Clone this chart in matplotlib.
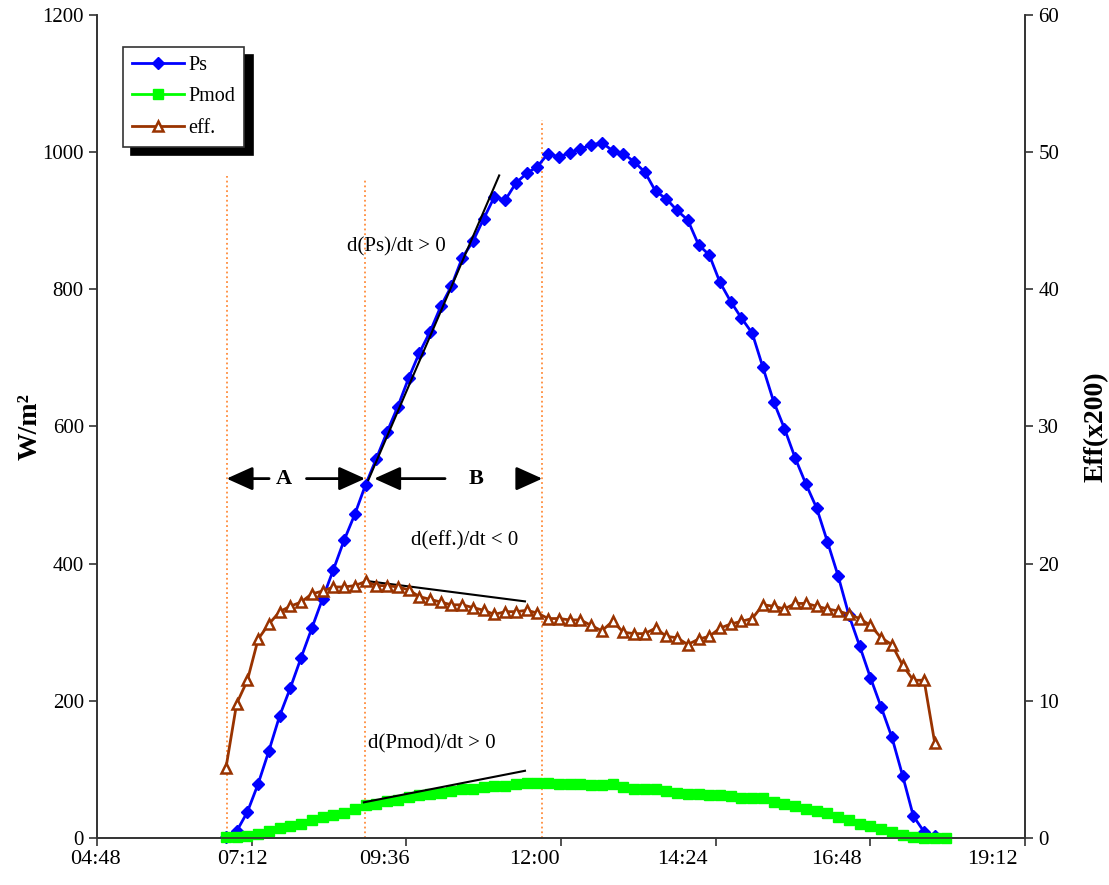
import matplotlib
matplotlib.use("Agg")
from matplotlib import pyplot as plt
from matplotlib.ticker import FixedLocator

plt.rcParams['font.family'] = ['Liberation Serif', 'DejaVu Serif']

# time of day of each sample
times = ["06:48", "06:58", "07:08", "07:18", "07:28", "07:38", "07:48", "07:58",
         "08:08", "08:18", "08:28", "08:38", "08:48", "08:58", "09:08", "09:18",
         "09:28", "09:38", "09:48", "09:58", "10:08", "10:18", "10:28", "10:38",
         "10:48", "10:58", "11:08", "11:18", "11:28", "11:38", "11:48", "11:58",
         "12:08", "12:18", "12:28", "12:38", "12:48", "12:58", "13:08", "13:18",
         "13:28", "13:38", "13:48", "13:58", "14:08", "14:18", "14:28", "14:38",
         "14:48", "14:58", "15:08", "15:18", "15:28", "15:38", "15:48", "15:58",
         "16:08", "16:18", "16:28", "16:38", "16:48", "16:58", "17:08", "17:18",
         "17:28", "17:38", "17:48", "17:58"]

ps = [2, 10, 38, 79, 127, 178, 219, 263, 306, 349, 391, 434, 472, 515, 553, 592,
      629, 670, 707, 738, 775, 805, 846, 870, 903, 935, 930, 955, 969, 979, 998, 993,
      999, 1005, 1010, 1014, 1002, 998, 986, 971, 943, 932, 915, 901, 865, 850, 810,
      782, 758, 736, 686, 636, 597, 554, 516, 481, 432, 382, 325, 280, 234, 191, 147,
      91, 32, 9, 3]

pmod = [1, 2, 3, 6, 10, 15, 18, 21, 26, 30, 33, 37, 43, 48, 50, 54, 56, 60, 63, 64,
        66, 68, 71, 72, 75, 76, 76, 79, 80, 80, 80, 79, 79, 79, 77, 77, 79, 75, 72, 72,
        71, 68, 66, 64, 64, 63, 62, 61, 59, 59, 58, 53, 49, 46, 42, 39, 36, 31, 26, 21,
        17, 13, 9, 4, 1, 0, 0, 0]

eff = [5.1, 9.8, 11.5, 14.5, 15.6, 16.5, 16.9, 17.2, 17.8, 18.0, 18.3, 18.3, 18.4,
       18.7, 18.4, 18.4, 18.3, 18.1, 17.6, 17.4, 17.2, 17.0, 17.0, 16.8, 16.6, 16.3,
       16.5, 16.5, 16.6, 16.4, 16.0, 16.0, 15.9, 15.9, 15.5, 15.1, 15.8, 15.0, 14.9,
       14.9, 15.3, 14.7, 14.6, 14.1, 14.5, 14.7, 15.3, 15.6, 15.8, 16.0, 17.0, 16.9,
       16.7, 17.1, 17.1, 16.9, 16.7, 16.55, 16.3, 16.0, 15.5, 14.6, 14.1, 12.6, 11.5,
       11.5, 6.9]

xtick_labels = ["04:48", "07:12", "09:36", "12:00", "14:24", "16:48", "19:12"]
# where the labels sit under the axis (hours), a bit left of the ticks like in the original
xlabel_pos = [4.78, 7.06, 9.26, 11.59, 13.89, 16.28, 18.70]


def hours(s):
    h, m = s.split(":")
    return int(h) + int(m) / 60.0


t = [hours(s) for s in times]
xticks = [hours(s) for s in xtick_labels]

fig = plt.figure(figsize=(11.09, 8.85), dpi=100)
ax = fig.add_axes([0.0875, 0.0531, 0.8368, 0.93])
ax2 = ax.twinx()

ax.plot(t[:len(ps)], ps, color='#0000FF', lw=2, marker='D', ms=6.5,
        label='Ps', clip_on=False, zorder=3)
ax.plot(t[:len(pmod)], pmod, color='#00FF00', lw=2, marker='s', ms=7,
        label='Pmod', clip_on=False, zorder=3)
ax2.plot(t[:len(eff)], eff, color='#993300', lw=2, marker='^', ms=7.5,
         mfc='white', mew=1.8, label='eff.', clip_on=False, zorder=3)

ax.set_xlim(4.8, 19.2)
ax.set_ylim(0, 1200)
ax2.set_ylim(0, 60)
ax.xaxis.set_major_locator(FixedLocator(xticks))
ax.set_xticklabels([])
ax.set_yticks(range(0, 1201, 200))
ax2.set_yticks(range(0, 61, 10))

for pos, lab in zip(xlabel_pos, xtick_labels):
    ax.text(pos, -17, lab, fontsize=16, ha='center', va='top')

for a in (ax, ax2):
    a.spines['top'].set_visible(False)
    for s in a.spines.values():
        s.set_linewidth(1.2)
        s.set_color('#333333')
    a.tick_params(direction='out', length=6, width=1.2, labelsize=15, color='#333333')

ax.set_ylabel('W/m²', fontsize=20, fontweight='bold', labelpad=0)
ax2.set_ylabel('Eff(x200)', fontsize=20, fontweight='bold', labelpad=18)

# orange reference lines
orange = '#FF8C3C'
ax.vlines([6.81, 8.96, 11.71], 0, [965, 963, 1047], colors=orange,
          linestyles=':', lw=1.3, zorder=1)

# tangent lines
ax.plot([9.01, 11.04], [522, 966], color='black', lw=1.5, zorder=4)
ax.plot([8.96, 11.44], [375, 345], color='black', lw=1.5, zorder=4)
ax.plot([8.94, 11.44], [52, 98], color='black', lw=1.5, zorder=4)

ax.text(9.44, 862, 'd(Ps)/dt > 0', fontsize=15, ha='center', va='center')
ax.text(10.51, 433, 'd(eff.)/dt < 0', fontsize=15, ha='center', va='center')
ax.text(10.0, 137, 'd(Pmod)/dt > 0', fontsize=15, ha='center', va='center')

# interval arrows
arr = dict(arrowstyle='-|>,head_length=1.0,head_width=0.45', color='black',
           lw=2, mutation_scale=16, shrinkA=0, shrinkB=0)
ya = 524
for tail, head in [(7.47, 6.81), (8.05, 8.96), (10.20, 9.10), (11.33, 11.71)]:
    ax.annotate('', xy=(head, ya), xytext=(tail, ya), arrowprops=arr)
ax.text(7.70, ya, 'A', fontsize=16, fontweight='bold', ha='center', va='center')
ax.text(10.68, ya, 'B', fontsize=16, fontweight='bold', ha='center', va='center')

# legend
h1, l1 = ax.get_legend_handles_labels()
h2, l2 = ax2.get_legend_handles_labels()
leg = ax2.legend(h1 + h2, l1 + l2, loc='upper left', bbox_to_anchor=(0.028, 0.961),
                 borderaxespad=0, fontsize=14.5, fancybox=False, framealpha=1,
                 edgecolor='#333333', borderpad=0.45, labelspacing=0.6,
                 handlelength=2.6, handletextpad=0.2,
                 shadow={'ox': 6, 'oy': -6, 'color': 'black', 'alpha': 1})
leg.get_frame().set_linewidth(1.2)

fig.savefig('out.png', dpi=100)
